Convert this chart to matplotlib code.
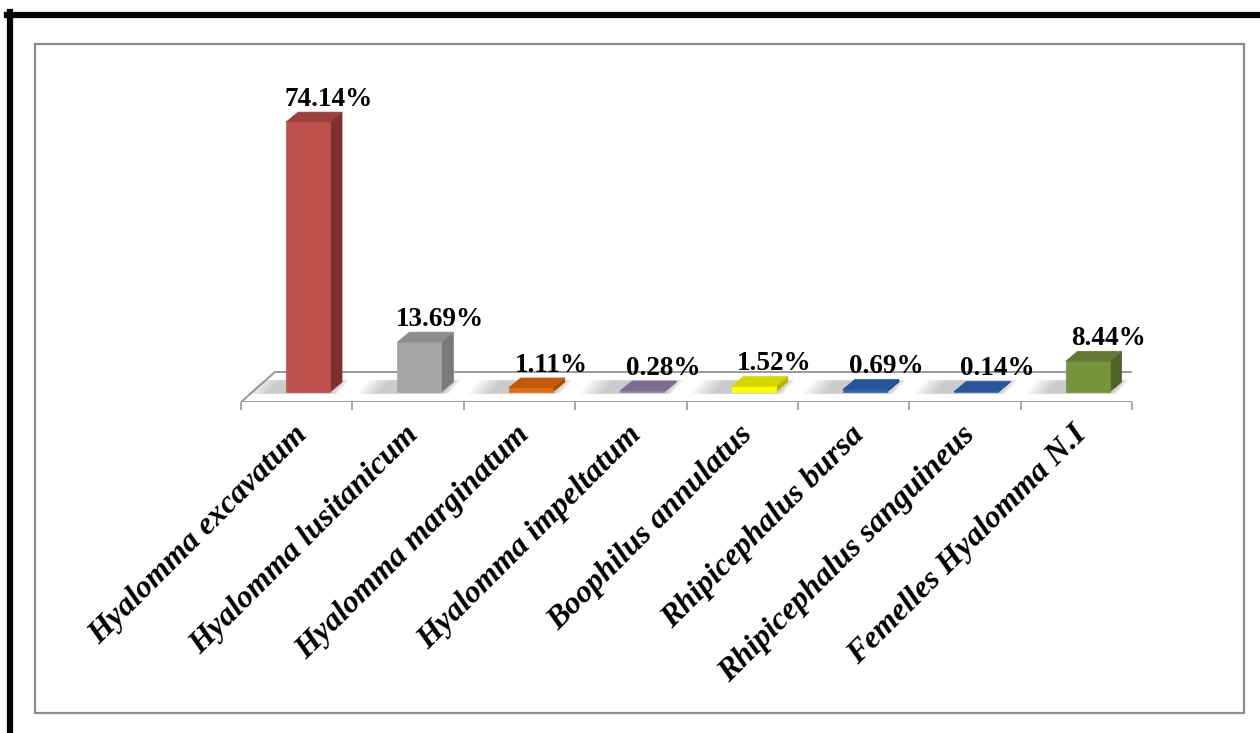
import matplotlib.pyplot as plt
from matplotlib.patches import Polygon, Rectangle
from matplotlib.lines import Line2D
from matplotlib.transforms import ScaledTranslation

# data
species = ["Hyalomma excavatum", "Hyalomma lusitanicum", "Hyalomma marginatum",
           "Hyalomma impeltatum", "Boophilus annulatus", "Rhipicephalus bursa",
           "Rhipicephalus sanguineus", "Femelles Hyalomma N.I"]
percent = [74.14, 13.69, 1.11, 0.28, 1.52, 0.69, 0.14, 8.44]
front_colors = ["#C0504D", "#A5A5A5", "#E46C0A", "#8E82A6", "#FFFF00", "#2E64B0", "#2E64B0", "#77933C"]
side_colors = ["#7E302E", "#7A7A7A", "#A44D06", "#675C7D", "#B5B500", "#1F457C", "#1F457C", "#4F6228"]
top_colors = ["#9C403D", "#8C8C8C", "#C4590A", "#7A6F93", "#D5D500", "#28559A", "#28559A", "#627A31"]

W, H = 1260, 733
fig = plt.figure(figsize=(W / 100, H / 100), dpi=100)

# geometry in pixels
x_left, x_right = 241, 1132        # floor front edge
y_front, y_top = 402, 60           # axes bottom/top (pixels from top)
ux = (x_right - x_left) / len(species)   # px per category
uy = 3.64                                 # px per percent
y0 = -(10 / uy)                           # floor front edge in data units

ax = fig.add_axes([x_left / W, (H - y_front) / H, (x_right - x_left) / W, (y_front - y_top) / H])
ax.set_xlim(-0.5, len(species) - 0.5)
ax.set_ylim(y0, y0 + (y_front - y_top) / uy)
for s in ax.spines.values():
    s.set_visible(False)
ax.set_yticks([])

# floor (perspective parallelogram)
fdx, fdy = 34 / ux, 30 / uy
n = len(species)
floor = Polygon([(-0.5, y0), (n - 0.5, y0), (n - 0.5 + fdx, y0 + fdy), (-0.5 + fdx, y0 + fdy)],
                closed=True, facecolor="white", edgecolor="#9A9A9A", lw=1.4, zorder=1)
ax.add_patch(floor)

bw = 44 / ux
bdx, bdy = 12 / ux, 10 / uy
shift = fdx / 3

for i, v in enumerate(percent):
    xc = i + shift
    xl, xr = xc - bw / 2, xc + bw / 2
    # soft shadow on the floor
    for k in range(7):
        grow = (k + 1) * 3.5 / ux
        ax.add_patch(Polygon([(xl - 16 / ux - grow, 0 - 0.5), (xr + grow * 0.3, 0 - 0.5),
                              (xr + bdx + grow * 0.3, bdy + 0.5), (xl + bdx - 16 / ux - grow, bdy + 0.5)],
                             closed=True, facecolor="#6F6F6F", edgecolor="none", alpha=0.06, zorder=2))
    # side, front, top
    ax.add_patch(Polygon([(xr, 0), (xr + bdx, bdy), (xr + bdx, v + bdy), (xr, v)],
                         closed=True, facecolor=side_colors[i], edgecolor=side_colors[i], lw=0.5, zorder=3))
    ax.add_patch(Rectangle((xl, 0), bw, v, facecolor=front_colors[i], edgecolor=front_colors[i], lw=0.5, zorder=4))
    ax.add_patch(Polygon([(xl, v), (xr, v), (xr + bdx, v + bdy), (xl + bdx, v + bdy)],
                         closed=True, facecolor=top_colors[i], edgecolor=top_colors[i], lw=0.5, zorder=5))
    ax.text(xc + 21 / ux, v + 16 / uy, f"{v:.2f}%", ha="center", va="baseline",
            fontsize=19.5, fontweight="bold", family="Liberation Serif", zorder=6)

# category ticks and labels
ax.set_xticks([i - 0.5 for i in range(n + 1)], minor=True)
ax.tick_params(axis="x", which="minor", length=6, width=1.2, color="#9A9A9A", direction="out")
ax.set_xticks(range(n))
ax.set_xticklabels(species, rotation=45, ha="right", rotation_mode="anchor",
                   fontsize=23, fontweight="bold", fontstyle="italic", family="Liberation Serif")
ax.tick_params(axis="x", which="major", length=0, pad=13)
for lab in ax.get_xticklabels():
    lab.set_transform(lab.get_transform() + ScaledTranslation(-4 / 100, 0, fig.dpi_scale_trans))

# outer black border (top and left) and inner grey frame
fig.add_artist(Line2D([7 / W, 1], [1 - 15 / H, 1 - 15 / H], color="black", lw=4.5, transform=fig.transFigure))
fig.add_artist(Line2D([10 / W, 10 / W], [0, 1 - 12 / H], color="black", lw=4.5, transform=fig.transFigure))
fig.add_artist(Rectangle((35 / W, 1 - 713 / H), (1244 - 35) / W, (713 - 44) / H, transform=fig.transFigure,
                         fill=False, edgecolor="#8C8C8C", lw=1.6))

fig.savefig("out.png", dpi=100)
